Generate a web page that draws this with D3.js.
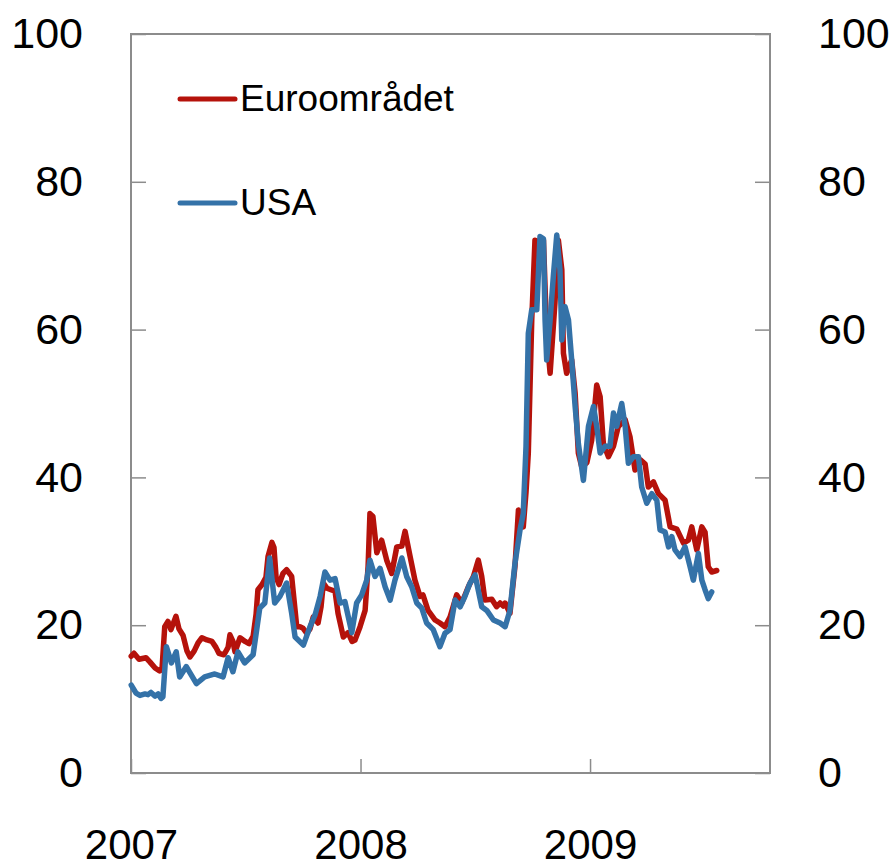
<!DOCTYPE html>
<html>
<head>
<meta charset="utf-8">
<script src="https://cdn.jsdelivr.net/npm/d3@7"></script>
<style>
  body { margin: 0; background: #fff; }
  svg { display: block; }
</style>
</head>
<body>
<div id="chart"></div>
<script>
// Data (time as decimal year)
const euroTimes = [2007.001, 2007.013, 2007.035, 2007.065, 2007.083, 2007.105, 2007.125, 2007.135, 2007.147, 2007.161,
  2007.174, 2007.196, 2007.209, 2007.227, 2007.244, 2007.257, 2007.275, 2007.292, 2007.309, 2007.331,
  2007.353, 2007.370, 2007.383, 2007.405, 2007.423, 2007.431, 2007.444, 2007.453, 2007.475, 2007.497,
  2007.514, 2007.532, 2007.545, 2007.553, 2007.571, 2007.588, 2007.597, 2007.614, 2007.623, 2007.632,
  2007.645, 2007.662, 2007.678, 2007.700, 2007.715, 2007.722, 2007.736, 2007.749, 2007.766, 2007.780,
  2007.794, 2007.815, 2007.828, 2007.838, 2007.854, 2007.871, 2007.889, 2007.902, 2007.925, 2007.946,
  2007.963, 2007.976, 2007.998, 2008.020, 2008.033, 2008.041, 2008.054, 2008.071, 2008.092, 2008.114,
  2008.136, 2008.158, 2008.180, 2008.194, 2008.216, 2008.237, 2008.259, 2008.272, 2008.294, 2008.325,
  2008.346, 2008.368, 2008.390, 2008.419, 2008.441, 2008.470, 2008.492, 2008.513, 2008.528, 2008.542,
  2008.572, 2008.593, 2008.608, 2008.622, 2008.630, 2008.651, 2008.673, 2008.688, 2008.709, 2008.721,
  2008.731, 2008.746, 2008.760, 2008.782, 2008.797, 2008.811, 2008.826, 2008.847, 2008.862, 2008.877,
  2008.884, 2008.898, 2008.920, 2008.935, 2008.949, 2008.964, 2008.986, 2009.007, 2009.029, 2009.044,
  2009.058, 2009.080, 2009.102, 2009.123, 2009.153, 2009.174, 2009.196, 2009.218, 2009.240, 2009.254,
  2009.276, 2009.298, 2009.327, 2009.349, 2009.378, 2009.407, 2009.428, 2009.443, 2009.465, 2009.487,
  2009.501, 2009.515, 2009.530, 2009.552];
const euroValues = [15.8, 16.2, 15.4, 15.6, 15.0, 14.2, 13.8, 14.0, 19.8, 20.5,
  19.4, 21.2, 19.5, 18.6, 16.5, 15.7, 16.5, 17.6, 18.3, 18.0,
  17.8, 17.0, 16.2, 16.0, 17.0, 18.7, 17.8, 16.4, 18.3, 17.8,
  17.5, 18.5, 21.5, 24.8, 25.5, 26.5, 29.3, 31.2, 30.5, 26.5,
  25.5, 27.0, 27.5, 26.6, 22.0, 19.8, 19.8, 19.6, 18.9, 19.5,
  21.1, 20.3, 22.5, 25.7, 25.0, 24.8, 24.6, 21.6, 18.4, 19.0,
  17.8, 18.0, 19.8, 22.0, 28.0, 35.1, 34.7, 29.8, 31.5, 28.8,
  27.0, 30.6, 30.7, 32.7, 29.3, 26.1, 23.9, 24.1, 22.0, 20.7,
  20.3, 19.8, 21.1, 24.1, 23.0, 25.2, 26.6, 28.8, 26.6, 23.4,
  23.5, 22.5, 23.0, 22.6, 23.0, 21.6, 28.0, 35.6, 33.3, 38.0,
  43.3, 61.3, 72.1, 71.8, 72.1, 59.5, 54.1, 63.6, 72.1, 68.1,
  56.8, 54.1, 55.9, 51.4, 43.3, 41.4, 42.0, 45.0, 52.5, 50.9,
  44.6, 42.8, 44.2, 46.9, 47.8, 45.5, 41.0, 42.4, 41.8, 38.7,
  39.4, 37.8, 36.9, 33.3, 33.0, 31.1, 31.5, 33.3, 30.2, 33.3,
  32.6, 27.9, 27.2, 27.4];

const usaTimes = [2007.001, 2007.022, 2007.039, 2007.061, 2007.074, 2007.087, 2007.105, 2007.118, 2007.131, 2007.139,
  2007.154, 2007.176, 2007.197, 2007.212, 2007.241, 2007.285, 2007.321, 2007.365, 2007.401, 2007.423,
  2007.444, 2007.466, 2007.495, 2007.532, 2007.561, 2007.583, 2007.604, 2007.626, 2007.649, 2007.678,
  2007.700, 2007.715, 2007.751, 2007.780, 2007.802, 2007.824, 2007.845, 2007.867, 2007.889, 2007.911,
  2007.932, 2007.962, 2007.983, 2008.005, 2008.027, 2008.041, 2008.063, 2008.085, 2008.107, 2008.129,
  2008.150, 2008.180, 2008.201, 2008.223, 2008.245, 2008.267, 2008.288, 2008.317, 2008.346, 2008.368,
  2008.390, 2008.412, 2008.434, 2008.455, 2008.477, 2008.499, 2008.528, 2008.550, 2008.579, 2008.608,
  2008.630, 2008.651, 2008.673, 2008.695, 2008.709, 2008.721, 2008.731, 2008.746, 2008.768, 2008.782,
  2008.797, 2008.804, 2008.811, 2008.826, 2008.840, 2008.855, 2008.869, 2008.877, 2008.891, 2008.906,
  2008.920, 2008.935, 2008.949, 2008.971, 2008.993, 2009.015, 2009.029, 2009.044, 2009.065, 2009.087,
  2009.102, 2009.116, 2009.138, 2009.153, 2009.167, 2009.189, 2009.211, 2009.225, 2009.247, 2009.269,
  2009.291, 2009.305, 2009.327, 2009.342, 2009.356, 2009.370, 2009.392, 2009.414, 2009.436, 2009.450,
  2009.472, 2009.487, 2009.501, 2009.515, 2009.530];
const usaValues = [11.9, 10.8, 10.5, 10.7, 10.6, 10.9, 10.4, 10.7, 10.1, 10.3,
  17.1, 14.9, 16.4, 13.0, 14.4, 12.1, 13.0, 13.4, 13.0, 15.6,
  13.7, 16.4, 14.9, 16.0, 22.3, 23.0, 29.1, 23.0, 23.9, 25.7,
  21.6, 18.4, 17.3, 19.8, 21.4, 23.9, 27.2, 26.1, 26.3, 23.0,
  23.2, 19.0, 23.0, 24.1, 26.1, 28.8, 26.6, 27.7, 25.2, 23.4,
  26.1, 29.1, 26.6, 25.2, 23.0, 22.3, 20.3, 19.4, 17.1, 18.9,
  19.4, 23.4, 22.5, 23.9, 25.7, 26.8, 22.5, 22.0, 20.7, 20.3,
  19.8, 22.0, 28.4, 32.9, 35.1, 44.2, 59.5, 62.7, 62.7, 72.6,
  72.3, 61.3, 55.9, 61.3, 67.2, 72.8, 68.1, 58.6, 63.1, 61.3,
  55.9, 49.6, 44.6, 39.6, 46.9, 49.6, 46.9, 43.3, 44.2, 44.2,
  48.7, 46.9, 50.0, 46.9, 41.9, 42.8, 42.8, 38.7, 36.5, 37.8,
  36.9, 32.9, 32.6, 30.6, 32.0, 30.2, 29.3, 30.6, 27.9, 26.1,
  29.7, 26.1, 24.8, 23.6, 24.5];

const seriesNames = ['Euroområdet', 'USA'];
const colors = ['#b5120b', '#3472a8'];
const yearTicks = [2007, 2008, 2009];
const yTicks = [0, 20, 40, 60, 80, 100];

const width = 895, height = 867;
const margin = { top: 34, right: 125, bottom: 94, left: 131 };
const innerW = width - margin.left - margin.right;
const innerH = height - margin.top - margin.bottom;
const fontFamily = '"Liberation Sans", Arial, sans-serif';

const svg = d3.select('#chart').append('svg')
    .attr('width', width)
    .attr('height', height);

const g = svg.append('g')
    .attr('transform', 'translate(' + margin.left + ',' + margin.top + ')');

// scales
const x = d3.scaleLinear().domain([2007, 2009.784]).range([0, innerW]);
const y = d3.scaleLinear().domain([0, 100]).range([innerH, 0]);

// left axis
const leftAxis = g.append('g')
    .call(d3.axisLeft(y).tickValues(yTicks).tickSize(-15).tickPadding(48).tickFormat(d3.format('d')));

// right axis
const rightAxis = g.append('g')
    .attr('transform', 'translate(' + innerW + ',0)')
    .call(d3.axisRight(y).tickValues(yTicks).tickSize(-15).tickPadding(48).tickFormat(d3.format('d')));

// bottom axis
const bottomAxis = g.append('g')
    .attr('transform', 'translate(0,' + innerH + ')')
    .call(d3.axisBottom(x).tickValues(yearTicks).tickSize(-14).tickPadding(0).tickFormat(d3.format('d')));

[leftAxis, rightAxis, bottomAxis].forEach(a => {
    a.select('.domain').remove();
    a.selectAll('.tick line').attr('stroke', '#8c8c8c').attr('stroke-width', 1.5);
    a.selectAll('.tick text')
        .attr('fill', '#000')
        .style('font-family', fontFamily)
        .style('font-size', '43px');
});
bottomAxis.selectAll('.tick text')
    .attr('y', 86)
    .attr('dy', null)
    .style('font-size', '42px');

// frame
g.append('rect')
    .attr('x', 0).attr('y', 0)
    .attr('width', innerW).attr('height', innerH)
    .attr('fill', 'none')
    .attr('stroke', '#8c8c8c')
    .attr('stroke-width', 2);

// lines
const line = d3.line()
    .x(d => x(d[0]))
    .y(d => y(d[1]));

const euroData = d3.zip(euroTimes, euroValues);
const usaData = d3.zip(usaTimes, usaValues);

[euroData, usaData].forEach((data, i) => {
    g.append('path')
        .datum(data)
        .attr('fill', 'none')
        .attr('stroke', colors[i])
        .attr('stroke-width', 5.5)
        .attr('stroke-linejoin', 'round')
        .attr('stroke-linecap', 'round')
        .attr('d', line);
});

// legend
const legend = svg.append('g')
    .attr('transform', 'translate(180,99)');

seriesNames.forEach((name, i) => {
    const row = legend.append('g')
        .attr('transform', 'translate(0,' + i * 104 + ')');
    row.append('line')
        .attr('x1', 0).attr('x2', 55)
        .attr('y1', 0).attr('y2', 0)
        .attr('stroke', colors[i])
        .attr('stroke-width', 5)
        .attr('stroke-linecap', 'round');
    row.append('text')
        .attr('x', 60)
        .attr('y', 12)
        .style('font-family', fontFamily)
        .style('font-size', '37px')
        .attr('fill', '#000')
        .text(name);
});
</script>
</body>
</html>
